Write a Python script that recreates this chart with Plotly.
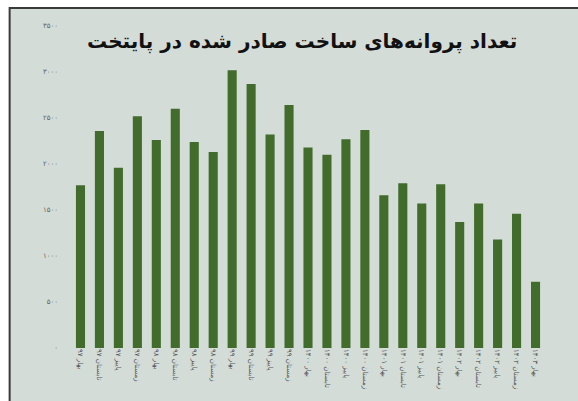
import plotly.graph_objects as go

# Seasons (quarters) and number of issued building permits
seasons = [
    "بهار ۹۷", "تابستان ۹۷", "پاییز ۹۷", "زمستان ۹۷",
    "بهار ۹۸", "تابستان ۹۸", "پاییز ۹۸", "زمستان ۹۸",
    "بهار ۹۹", "تابستان ۹۹", "پاییز ۹۹", "زمستان ۹۹",
    "بهار ۱۴۰۰", "تابستان ۱۴۰۰", "پاییز ۱۴۰۰", "زمستان ۱۴۰۰",
    "بهار ۱۴۰۱", "تابستان ۱۴۰۱", "پاییز ۱۴۰۱", "زمستان ۱۴۰۱",
    "بهار ۱۴۰۲", "تابستان ۱۴۰۲", "پاییز ۱۴۰۲", "زمستان ۱۴۰۲",
    "بهار ۱۴۰۳",
]
permits = [
    1770, 2360, 1960, 2520,
    2260, 2600, 2240, 2130,
    3020, 2870, 2320, 2640,
    2180, 2100, 2270, 2370,
    1660, 1790, 1570, 1780,
    1370, 1570, 1180, 1460,
    720,
]
y_ticks = [0, 500, 1000, 1500, 2000, 2500, 3000, 3500]
y_tick_text = ["۰", "۵۰۰", "۱۰۰۰", "۱۵۰۰", "۲۰۰۰", "۲۵۰۰", "۳۰۰۰", "۳۵۰۰"]

title_text = "تعداد پروانه‌های ساخت صادر شده در پایتخت"

W, H = 578, 401
ML, MR, MT, MB = 70.5, 32.5, 26, 53
pw, ph = W - ML - MR, H - MT - MB


def px_x(p):
    return (p - ML) / pw


def px_y(p):
    return (H - MB - p) / ph


fig = go.Figure(
    go.Bar(
        x=list(range(len(seasons))),
        y=permits,
        marker=dict(color="#416c2b", line=dict(width=0)),
        width=0.48,
    )
)

# framed panel background
fig.add_shape(
    type="rect", xref="paper", yref="paper",
    x0=px_x(9), x1=px_x(640), y0=px_y(460), y1=px_y(8),
    fillcolor="#d4dcd8", line=dict(color="#3a3a3a", width=2),
    layer="below",
)

fig.update_layout(
    width=W, height=H,
    margin=dict(l=ML, r=MR, t=MT, b=MB),
    paper_bgcolor="white",
    plot_bgcolor="rgba(0,0,0,0)",
    showlegend=False,
    bargap=0.5,
    font=dict(family="DejaVu Sans", color="#555"),
    annotations=[
        dict(
            text="<b>" + title_text + "</b>",
            xref="paper", yref="paper",
            x=px_x(302), y=px_y(42),
            xanchor="center", yanchor="middle",
            showarrow=False,
            font=dict(family="DejaVu Sans", size=20, color="#111"),
        )
    ],
)

fig.update_xaxes(
    range=[-0.5, len(seasons) - 0.5],
    tickmode="array",
    tickvals=list(range(len(seasons))),
    ticktext=seasons,
    tickangle=90,
    tickfont=dict(size=7, color="#555"),
    showgrid=False, zeroline=False, showline=False, ticks="",
)
fig.update_yaxes(
    range=[0, 3500],
    tickmode="array",
    tickvals=y_ticks,
    ticktext=y_tick_text,
    tickfont=dict(size=7, color="#666"),
    showgrid=False, zeroline=False, showline=False, ticks="",
    ticklabelstandoff=12,
)

fig.write_html("out.html")
